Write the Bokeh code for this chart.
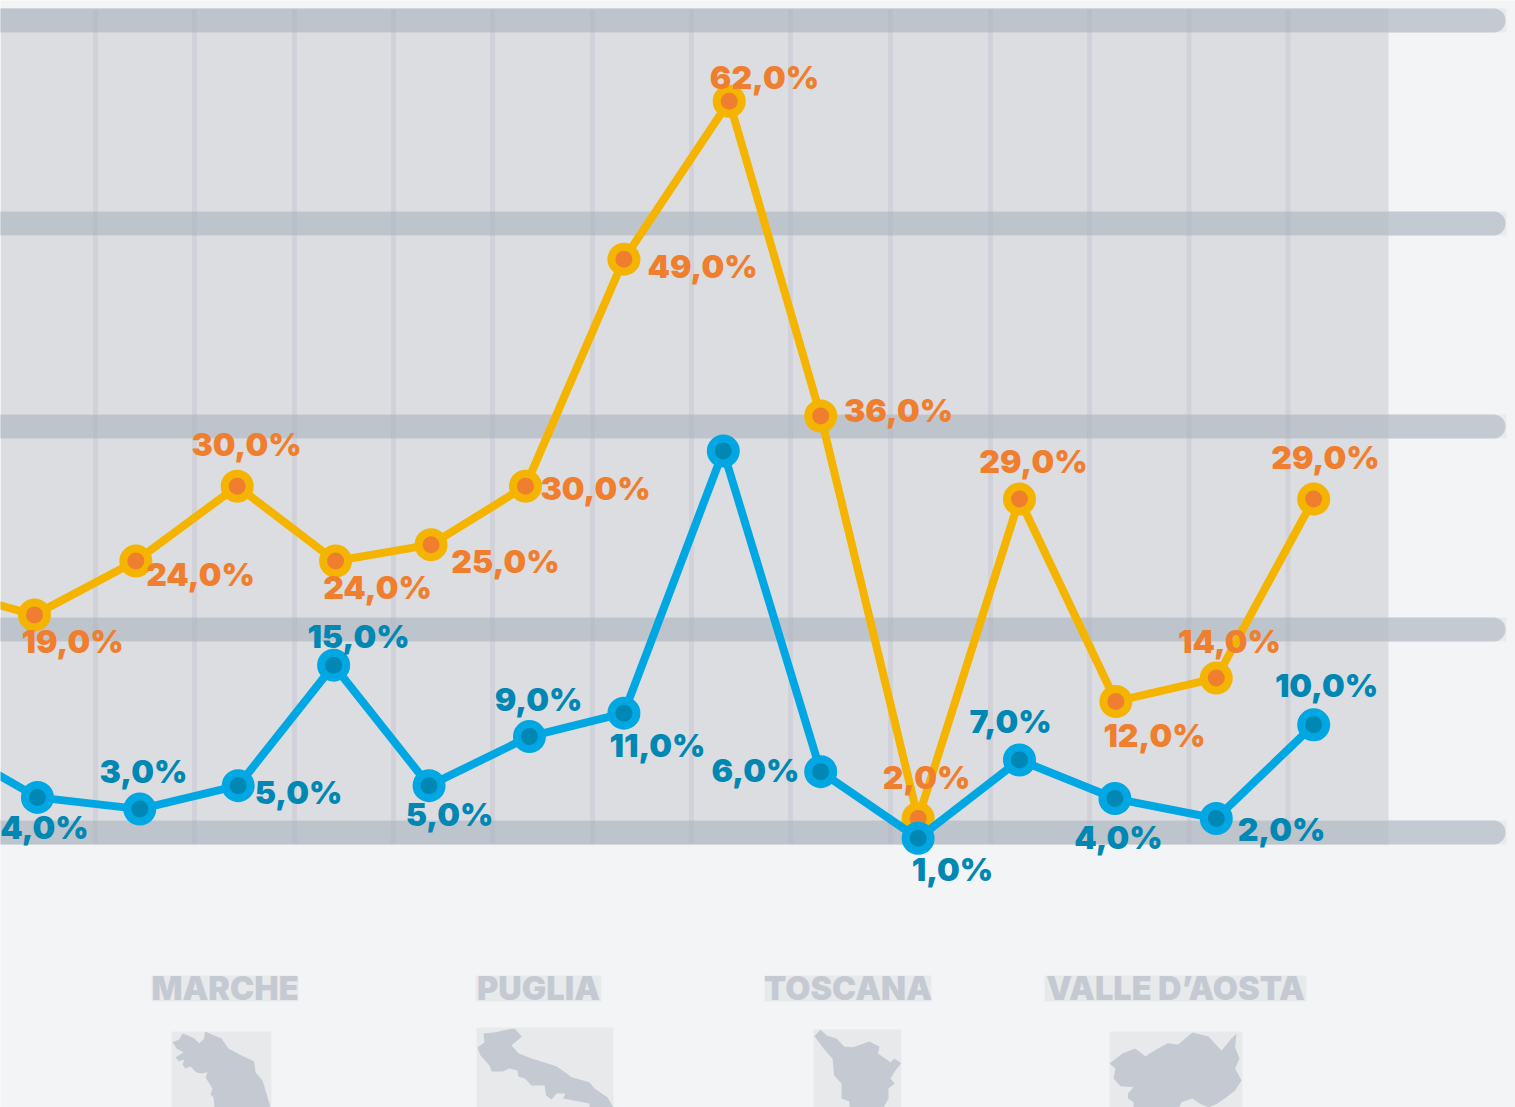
from bokeh.plotting import figure
from bokeh.models import Range1d, ColumnDataSource
from bokeh.core.properties import value
from bokeh.embed import file_html
from bokeh.resources import INLINE

W, H = 1515, 1107

orange_slot = [-1.0, 0.0, 1.03, 2.06, 3.06, 4.03, 4.99, 5.99, 7.06, 7.99, 8.98, 10.01, 10.99, 12.01, 13.0]
orange_val = [20.9, 18.6, 23.2, 29.6, 23.2, 24.6, 29.6, 49.0, 62.5, 35.6, 1.2, 28.5, 11.2, 13.2, 28.5]
blue_slot = [-1.0, 0.03, 1.07, 2.07, 3.04, 4.01, 5.03, 5.99, 7.0, 7.99, 8.98, 10.01, 10.98, 12.01, 13.0]
blue_val = [8.0, 3.0, 2.0, 4.0, 14.3, 4.0, 8.2, 10.2, 32.6, 5.2, -0.5, 6.2, 2.9, 1.2, 9.2]

orange_labels = ["19,0%", "24,0%", "30,0%", "24,0%", "25,0%", "30,0%", "49,0%", "62,0%", "36,0%", "2,0%", "29,0%", "12,0%", "14,0%", "29,0%"]
orange_label_x = [72, 200, 246, 377, 505, 595, 702, 764, 898, 926, 1033, 1154, 1229, 1325]
orange_label_y = [641, 574, 444, 587, 561, 488, 266, 77, 410, 777, 461, 735, 641, 457]
blue_labels = ["4,0%", "3,0%", "5,0%", "15,0%", "5,0%", "9,0%", "11,0%", "6,0%", "1,0%", "7,0%", "4,0%", "2,0%", "10,0%"]
blue_label_x = [44, 143, 298, 358, 449, 538, 657, 755, 952, 1010, 1118, 1281, 1326]
blue_label_y = [827, 771, 792, 636, 814, 699, 745, 770, 869, 721, 837, 829, 685]

regions = ["MARCHE", "PUGLIA", "TOSCANA", "VALLE D\u2019AOSTA"]
region_left = [151, 475, 764, 1044]
region_right = [298, 601, 931, 1306]

band_y = [20, 223, 426, 629, 832]
stripe_x = [95, 194, 294, 393, 492, 592, 691, 790, 890, 990, 1089, 1188.5, 1287.5]

map_boxes = [(171, 271, 1031), (476, 613, 1027), (813, 901, 1029), (1109, 1242, 1031)]
marche_x = [204.5,221,228,241,253.6,255,262,265.6,270,214,213,210,212,205,207,201,195.5,190,185,182,184,178.6,175,183,176,172,178.6,182,187.5,194,198.7,203.6]
marche_y = [1031,1038,1048,1055,1060.7,1071.7,1080,1091.7,1107,1107,1096.7,1094,1088,1077,1071.7,1073,1071.7,1066,1068,1064,1059,1060.7,1057,1051.7,1048,1041.7,1039,1033,1035,1038,1042.7,1038]
puglia_x = [514,521.4,511,518,531,556,571.4,589,594,607,613,589,589,562.5,565,556,551,545.5,544,531,524.5,518,517,509,502,491,489,480,477,484,483,495.5,502]
puglia_y = [1028,1036,1045,1052.7,1058,1065.7,1076.7,1081.7,1088,1096.7,1107,1107,1103,1098,1093,1093,1099,1095,1085,1085,1078,1076,1070,1068,1071,1071,1065,1055,1047,1041.7,1033,1031.7,1030]
toscana_x = [820,826,836,843.6,852.5,868.6,879,877.5,890,894,900.7,895,890,894,888,888,883,849,849,841,841,833.6,832,823,814]
toscana_y = [1029,1035,1038,1046,1046.7,1041,1046,1053,1061.7,1058,1062.7,1070,1078,1083,1088,1098,1107,1107,1101,1098,1083,1075,1058,1048,1035.7]
aosta_x = [1109,1122,1134.6,1145,1154,1167,1177.5,1192,1208,1221,1231,1236,1234.6,1239,1234.6,1241,1234.6,1226,1217,1208,1199,1192,1181,1178.6,1133,1133,1127.5,1127.5,1133,1120,1113,1115]
aosta_y = [1063,1053,1048,1055.7,1050,1042.7,1044,1032,1036,1050,1038,1033,1046.7,1058,1068,1080,1090,1096.7,1103,1107,1103,1098,1101.7,1107,1107,1101.7,1098,1093,1086.7,1085.7,1078,1068]

PAGE = "#f3f4f6"
PANEL = "#dcdde1"
BAND = "#a5aebb"
MAPC = "#c5cad2"
BOX = "#e8e9eb"
ORANGE_LINE = "#f4b400"
ORANGE_DOT = "#ef7f2e"
BLUE_LINE = "#00a7e3"
BLUE_DOT = "#0087b3"

p = figure(
    width=W, height=H, output_backend="svg", toolbar_location=None,
    x_range=Range1d(-34 / 98.4, (W - 34) / 98.4),
    y_range=Range1d(-(H - 832) / 11.7, 832 / 11.7),
    min_border=0, outline_line_color=None,
    background_fill_color=PAGE, border_fill_color=PAGE,
)
p.axis.visible = False
p.grid.visible = False
p.extra_x_ranges = {"px": Range1d(0, W)}
p.extra_y_ranges = {"px": Range1d(H, 0)}
px = dict(x_range_name="px", y_range_name="px")

p.quad(left=[0], right=[1388], top=[9], bottom=[843], fill_color=PANEL, line_color=None, **px)
p.quad(left=[0] * 5, right=[1506] * 5, top=[y - 12 for y in band_y], bottom=[y + 12 for y in band_y],
       fill_color="#e9eaec", line_color=None, **px)
p.quad(left=[0] * 5, right=[1388] * 5, top=[y - 12 for y in band_y], bottom=[y + 12 for y in band_y],
       fill_color=PANEL, line_color=None, **px)
p.segment(x0=[-20] * 5, x1=[1493] * 5, y0=band_y, y1=band_y, line_width=24, line_cap="round",
          line_color=BAND, line_alpha=0.55, **px)
p.segment(x0=stripe_x, x1=stripe_x, y0=[9] * 13, y1=[843] * 13, line_width=5,
          line_color="#a3abb8", line_alpha=0.2, **px)

for left, right, top in map_boxes:
    p.quad(left=[left], right=[right], top=[top], bottom=[H], fill_color=BOX, line_color=None, **px)
for mx, my in [(marche_x, marche_y), (puglia_x, puglia_y), (toscana_x, toscana_y), (aosta_x, aosta_y)]:
    p.patch(mx, my, fill_color=MAPC, line_color=None, **px)

p.quad(left=region_left, right=region_right, top=[975] * 4, bottom=[1001] * 4, fill_color=BOX, line_color=None, **px)
p.text(x=[(a + b) / 2 for a, b in zip(region_left, region_right)], y=[988] * 4, text=regions,
       text_font=value("Inter Black"), text_font_style="normal", text_font_size="32.5px",
       text_color=MAPC, text_align="center", text_baseline="middle", **px)

def series(x, y, line, dot):
    s = ColumnDataSource(dict(x=x, y=y))
    p.line("x", "y", source=s, line_color=line, line_width=8, line_join="round")
    p.scatter("x", "y", source=s, size=25, fill_color=dot, line_color=line, line_width=8)

series(orange_slot, orange_val, ORANGE_LINE, ORANGE_DOT)
series(blue_slot, blue_val, BLUE_LINE, BLUE_DOT)

common = dict(text_font=value("Inter Black"), text_font_style="normal", text_font_size="32px",
              text_align="center", text_baseline="middle")
p.text(x=orange_label_x, y=orange_label_y, text=orange_labels, text_color=ORANGE_DOT, **common, **px)
p.text(x=blue_label_x, y=blue_label_y, text=blue_labels, text_color=BLUE_DOT, **common, **px)

open("out.html", "w").write(file_html(p, INLINE))
